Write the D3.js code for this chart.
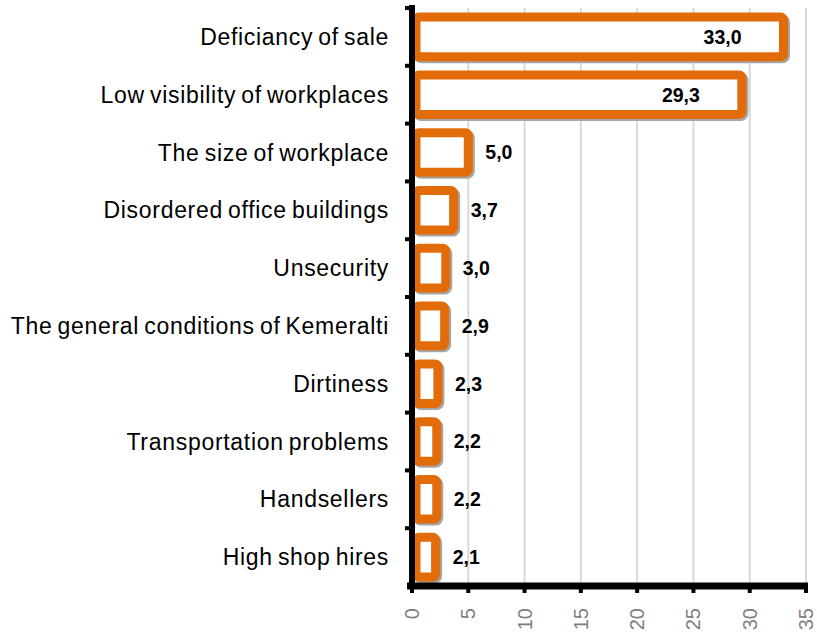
<!DOCTYPE html>
<html>
<head>
<meta charset="utf-8">
<script src="https://cdn.jsdelivr.net/npm/d3@7"></script>
<style>
  body { margin: 0; background: #fff; }
  text { font-family: "Liberation Sans", Arial, sans-serif; }
</style>
</head>
<body>
<script>
const categories = [
  "Deficiancy of sale",
  "Low visibility of workplaces",
  "The size of workplace",
  "Disordered office buildings",
  "Unsecurity",
  "The general conditions of Kemeralti",
  "Dirtiness",
  "Transportation problems",
  "Handsellers",
  "High shop hires"
];
const values = [33.0, 29.3, 5.0, 3.7, 3.0, 2.9, 2.3, 2.2, 2.2, 2.1];
const tickValues = [0, 5, 10, 15, 20, 25, 30, 35];

const width = 817, height = 638;
const margin = {top: 8, right: 11, bottom: 52, left: 412};

const data = categories.map((name, i) => ({name, value: values[i]}));

const x = d3.scaleLinear()
    .domain([0, 35])
    .range([margin.left, width - margin.right]);

const y = d3.scaleBand()
    .domain(categories)
    .range([margin.top, height - margin.bottom])
    .paddingInner(0.16)
    .paddingOuter(0.08);

const svg = d3.select("body").append("svg")
    .attr("width", width)
    .attr("height", height);

// grid
svg.append("g")
    .selectAll("line")
    .data(tickValues.slice(1))
    .join("line")
    .attr("x1", d => x(d)).attr("x2", d => x(d))
    .attr("y1", margin.top).attr("y2", height - margin.bottom)
    .attr("stroke", "#d9d9d9")
    .attr("stroke-width", 2);

const sw = 9;
const bx = x(0) + 4;
// shadow
svg.append("g")
    .selectAll("rect")
    .data(data)
    .join("rect")
    .attr("x", bx + 2)
    .attr("y", d => y(d.name) + sw / 2 + 2)
    .attr("width", d => Math.max(1, x(d.value) - bx))
    .attr("height", y.bandwidth() - sw)
    .attr("rx", 3)
    .attr("fill", "none")
    .attr("stroke", "#a6a6a6")
    .attr("stroke-width", sw);

svg.append("g")
    .selectAll("rect")
    .data(data)
    .join("rect")
    .attr("x", bx)
    .attr("y", d => y(d.name) + sw / 2)
    .attr("width", d => Math.max(1, x(d.value) - bx))
    .attr("height", y.bandwidth() - sw)
    .attr("rx", 3)
    .attr("fill", "#fff")
    .attr("stroke", "#e36c0a")
    .attr("stroke-width", sw);

// value labels
svg.append("g")
    .selectAll("text")
    .data(data)
    .join("text")
    .attr("x", d => d.value > 20 ? x(d.value) - 42 : x(d.value) + 17)
    .attr("y", d => y(d.name) + y.bandwidth() / 2)
    .attr("dy", "0.35em")
    .attr("text-anchor", d => d.value > 20 ? "end" : "start")
    .attr("font-size", 19.5)
    .attr("font-weight", "bold")
    .attr("fill", "#000")
    .text(d => d.value.toFixed(1).replace(".", ","));

// category labels
svg.append("g")
    .selectAll("text")
    .data(categories)
    .join("text")
    .attr("x", 389)
    .attr("y", d => y(d) + y.bandwidth() / 2)
    .attr("dy", "0.35em")
    .attr("text-anchor", "end")
    .attr("font-size", 23)
    .attr("letter-spacing", 0.7)
    .attr("word-spacing", -2)
    .attr("fill", "#000")
    .text(d => d);

// y axis
const yAxis = svg.append("g")
    .attr("transform", `translate(${x(0)},0)`);
yAxis.append("line")
    .attr("x1", 0).attr("x2", 0)
    .attr("y1", margin.top - 3).attr("y2", height - margin.bottom + 3)
    .attr("stroke", "#000").attr("stroke-width", 6);
const bounds = categories.map(c => y(c) - y.step() * y.paddingInner() / 2);
yAxis.selectAll("line.tk")
    .data(bounds)
    .join("line")
    .attr("class", "tk")
    .attr("x1", -7).attr("x2", 0)
    .attr("y1", d => d).attr("y2", d => d)
    .attr("stroke", "#000").attr("stroke-width", 4);

// x axis
const xAxisG = svg.append("g")
    .attr("transform", `translate(0,${height - margin.bottom})`);
xAxisG.append("line")
    .attr("x1", x(0) - 5).attr("x2", x(35) + 2)
    .attr("y1", 0).attr("y2", 0)
    .attr("stroke", "#000").attr("stroke-width", 7);
xAxisG.selectAll("line.tk")
    .data(tickValues)
    .join("line")
    .attr("class", "tk")
    .attr("x1", d => x(d)).attr("x2", d => x(d))
    .attr("y1", 0).attr("y2", 7)
    .attr("stroke", "#000").attr("stroke-width", 4);
xAxisG.selectAll("text")
    .data(tickValues)
    .join("text")
    .attr("transform", d => `translate(${x(d)},22) rotate(-90)`)
    .attr("text-anchor", "end")
    .attr("dy", "0.35em")
    .attr("font-size", 20)
    .attr("fill", "#808080")
    .text(d => d);
</script>
</body>
</html>
